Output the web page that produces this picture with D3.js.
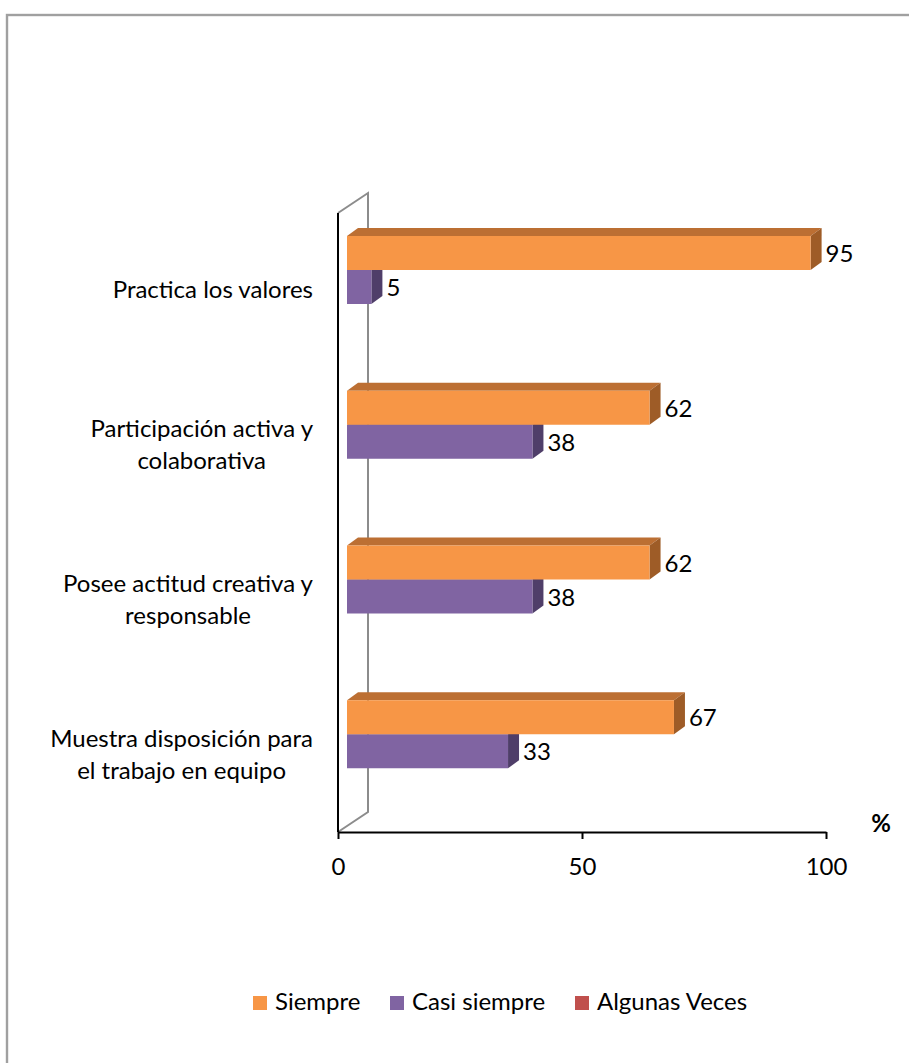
<!DOCTYPE html>
<html>
<head>
<meta charset="utf-8">
<script src="https://cdn.jsdelivr.net/npm/d3@7"></script>
<style>
  html, body { margin: 0; padding: 0; background: #fff; }
  svg { display: block; }
  text { font-family: Lato, "Open Sans", sans-serif; fill: #000; }
</style>
</head>
<body>
<svg id="chart" width="909" height="1063"></svg>
<script>
// Categories, top to bottom as drawn
const categories = [
  ["Practica los valores"],
  ["Participación activa y", "colaborativa"],
  ["Posee actitud creativa y", "responsable"],
  ["Muestra disposición para", "el trabajo en equipo"]
];
const seriesNames = ["Siempre", "Casi siempre", "Algunas Veces"];
const siempre = [95, 62, 62, 67];
const casiSiempre = [5, 38, 38, 33];
const algunasVeces = [0, 0, 0, 0];
const xTicks = [0, 50, 100];

const colors = {
  front: ["#F79646", "#8064A2", "#C0504D"],
  top:   ["#BC6F33", "#5E4B7C", "#8E3B39"],
  side:  ["#9E5C27", "#4F3E69", "#7A3230"]
};

const FS = 24;

const svg = d3.select("#chart");

// Outer frame
svg.append("rect")
  .attr("x", 7).attr("y", 15).attr("width", 1000).attr("height", 1100)
  .attr("fill", "none").attr("stroke", "#A0A0A0").attr("stroke-width", 2.4);

// Plot geometry
const x0 = 338, x1 = 826, yTop = 213, yFloor = 832;
const wallDx = 30, wallDy = -20;   // depth of the back wall
const barShiftX = 9, barShiftY = -6; // bars sit slightly inside the depth
const depthDx = 11, depthDy = -8;  // bar thickness in depth
const barH = 34;

const x = d3.scaleLinear().domain([0, 100]).range([x0, x1]);
const y = d3.scaleBand().domain(d3.range(categories.length)).range([yTop, yFloor]);

// Side wall (behind the bars)
svg.append("path")
  .attr("d", `M${x0},${yFloor} L${x0 + wallDx},${yFloor + wallDy} L${x0 + wallDx},${yTop + wallDy} L${x0},${yTop}`)
  .attr("fill", "none").attr("stroke", "#8C8C8C").attr("stroke-width", 2);

// Bars: each bar is a front face, a top face and a right side face
const series = [siempre, casiSiempre];
const bars = [];
categories.forEach((c, i) => {
  series.forEach((vals, s) => {
    bars.push({ i, s, v: vals[i] });
  });
});

function barGeom(d) {
  const left = x(0) + barShiftX;
  const right = x(d.v) + barShiftX;
  const top = y(d.i) + 29 + barShiftY + d.s * barH;
  return { left, right, top, bottom: top + barH };
}

// lower series first so the upper bar covers its hidden edges
const order = bars.slice().sort((a, b) => (b.s - a.s) || (a.i - b.i));
const g = svg.append("g");
order.forEach(d => {
  const b = barGeom(d);
  const grp = g.append("g");
  grp.append("path")
    .attr("d", `M${b.left},${b.top} L${b.left + depthDx},${b.top + depthDy} L${b.right + depthDx},${b.top + depthDy} L${b.right},${b.top} Z`)
    .attr("fill", colors.top[d.s]);
  grp.append("path")
    .attr("d", `M${b.right},${b.top} L${b.right + depthDx},${b.top + depthDy} L${b.right + depthDx},${b.bottom + depthDy} L${b.right},${b.bottom} Z`)
    .attr("fill", colors.side[d.s]);
  grp.append("rect")
    .attr("x", b.left).attr("y", b.top)
    .attr("width", b.right - b.left).attr("height", barH)
    .attr("fill", colors.front[d.s]);
});

// Value labels
bars.forEach(d => {
  const b = barGeom(d);
  svg.append("text")
    .attr("x", b.right + depthDx + 4)
    .attr("y", (b.top + b.bottom) / 2 + 9)
    .attr("font-size", FS)
    .text(d.v);
});

// Front-left edge of the wall
svg.append("line")
  .attr("x1", x0).attr("x2", x0).attr("y1", yTop).attr("y2", yFloor)
  .attr("stroke", "#000").attr("stroke-width", 2);

// Value axis
const axis = svg.append("g")
  .attr("transform", `translate(0,${yFloor})`)
  .call(d3.axisBottom(x).tickValues(xTicks).tickSize(7).tickPadding(19).tickSizeOuter(0));
axis.select(".domain").attr("stroke", "#000").attr("stroke-width", 2);
axis.selectAll(".tick line").attr("stroke", "#000").attr("stroke-width", 2);
axis.selectAll(".tick text")
  .attr("font-family", "Lato, 'Open Sans', sans-serif")
  .attr("font-size", FS).attr("fill", "#000");

svg.append("text")
  .attr("x", 881).attr("y", 832)
  .attr("text-anchor", "middle")
  .attr("font-size", FS).attr("font-weight", "bold")
  .text("%");

// Category labels: lines centred on each other, block right-aligned
const labelRight = 313, lineGap = 32;
categories.forEach((lines, i) => {
  const grp = svg.append("g");
  const texts = lines.map(t => grp.append("text").attr("font-size", FS).text(t));
  const w = d3.max(texts, t => t.node().getComputedTextLength());
  const cx = labelRight - w / 2;
  const cy = y(i) + y.bandwidth() / 2;
  texts.forEach((t, k) => {
    t.attr("x", cx).attr("text-anchor", "middle")
     .attr("y", cy + (k - (lines.length - 1) / 2) * lineGap + 8);
  });
});

// Legend
const legendItems = [
  { name: seriesNames[0], color: colors.front[0], x: 253 },
  { name: seriesNames[1], color: colors.front[1], x: 390 },
  { name: seriesNames[2], color: colors.front[2], x: 575 }
];
const legend = svg.append("g");
legendItems.forEach(it => {
  legend.append("rect")
    .attr("x", it.x).attr("y", 996).attr("width", 14).attr("height", 14)
    .attr("fill", it.color);
  legend.append("text")
    .attr("x", it.x + 22).attr("y", 1010)
    .attr("font-size", FS)
    .text(it.name);
});
</script>
</body>
</html>
